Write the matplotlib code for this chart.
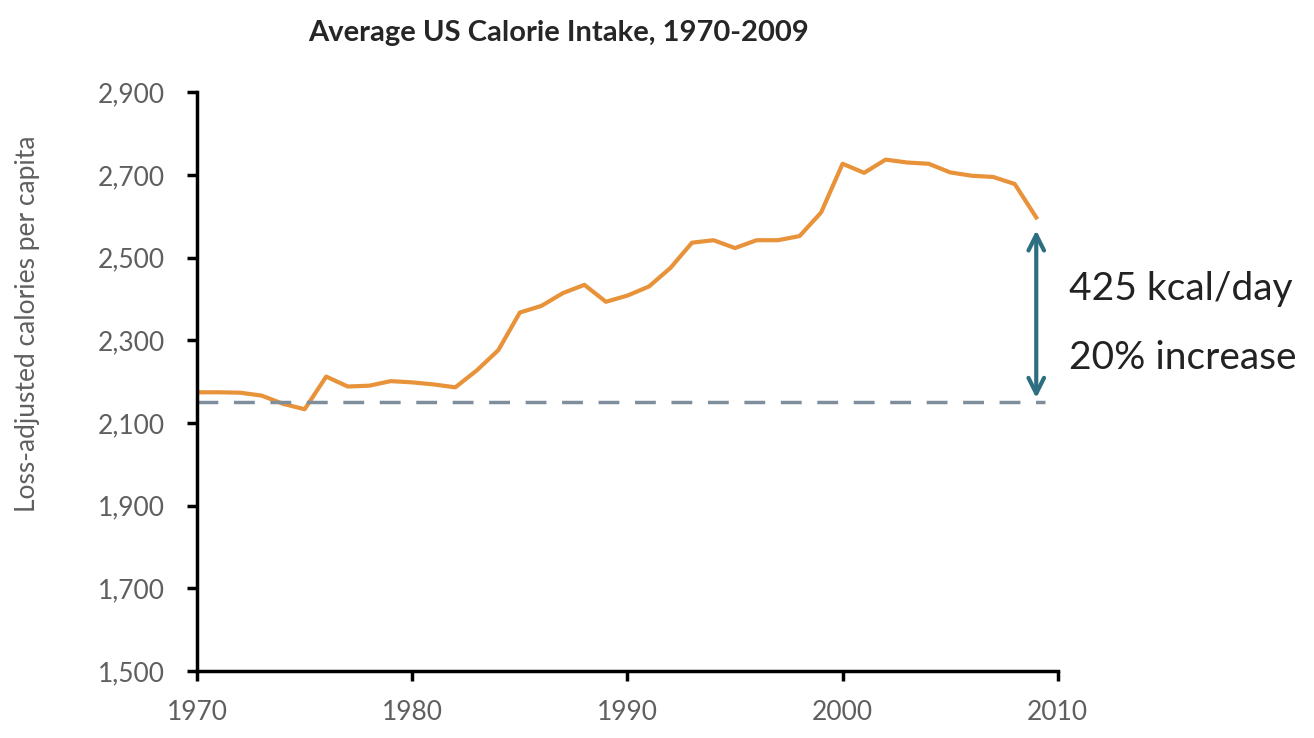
import matplotlib.pyplot as plt
from matplotlib.ticker import FuncFormatter

plt.rcParams['font.family'] = ['Lato', 'DejaVu Sans']

years = list(range(1970, 2010))
calories = [2174, 2174, 2173, 2166, 2146, 2133, 2212, 2188, 2190, 2201,
            2198, 2193, 2186, 2227, 2276, 2367, 2383, 2414, 2434, 2393,
            2408, 2430, 2475, 2536, 2542, 2523, 2542, 2542, 2552, 2609,
            2727, 2705, 2737, 2730, 2727, 2706, 2698, 2695, 2678, 2597]
baseline = 2150
arrow_top = 2566
arrow_bottom = 2160
yticks = [1500, 1700, 1900, 2100, 2300, 2500, 2700, 2900]
xticks = [1970, 1980, 1990, 2000, 2010]

fig = plt.figure(figsize=(13.14, 7.38), dpi=100)
ax = fig.add_axes([0.150, 0.091, 0.655, 0.784])

ax.plot(years, calories, color='#e8923a', linewidth=3, solid_joinstyle='round')
ax.plot([years[0], years[-1] + 0.4], [baseline, baseline], color='#7f8e9c',
        linewidth=2.5, dashes=(6, 4.5))

ax.annotate('', xy=(years[-1], arrow_top), xytext=(years[-1], arrow_bottom),
            arrowprops=dict(arrowstyle='<->', color='#2d6e80', lw=3,
                            mutation_scale=28, shrinkA=0, shrinkB=0))

ax.text(2010.5, 2424, '425 kcal/day', fontsize=28, color='#222222',
        va='center', ha='left', clip_on=False)
ax.text(2010.5, 2257, '20% increase', fontsize=28, color='#222222',
        va='center', ha='left', clip_on=False)

ax.set_xlim(1970, 2010)
ax.set_ylim(1500, 2900)
ax.set_xticks(xticks)
ax.set_yticks(yticks)
ax.yaxis.set_major_formatter(FuncFormatter(lambda v, p: f'{int(v):,}'))

for side in ['top', 'right']:
    ax.spines[side].set_visible(False)
for side in ['left', 'bottom']:
    ax.spines[side].set_linewidth(2.5)
    ax.spines[side].set_color('black')

ax.tick_params(axis='both', width=2.5, length=7, colors='black',
               labelsize=19, labelcolor='#5f5f5f')
ax.tick_params(axis='y', pad=16)
ax.tick_params(axis='x', pad=14)

ax.set_ylabel('Loss-adjusted calories per capita', fontsize=19,
              color='#5f5f5f')
ax.yaxis.set_label_coords(-0.182, 0.60)
fig.text(0.425, 0.955, 'Average US Calorie Intake, 1970-2009', fontsize=21,
         ha='center', va='center', color='#262626', fontweight='bold')

plt.savefig('out.png', dpi=100)
